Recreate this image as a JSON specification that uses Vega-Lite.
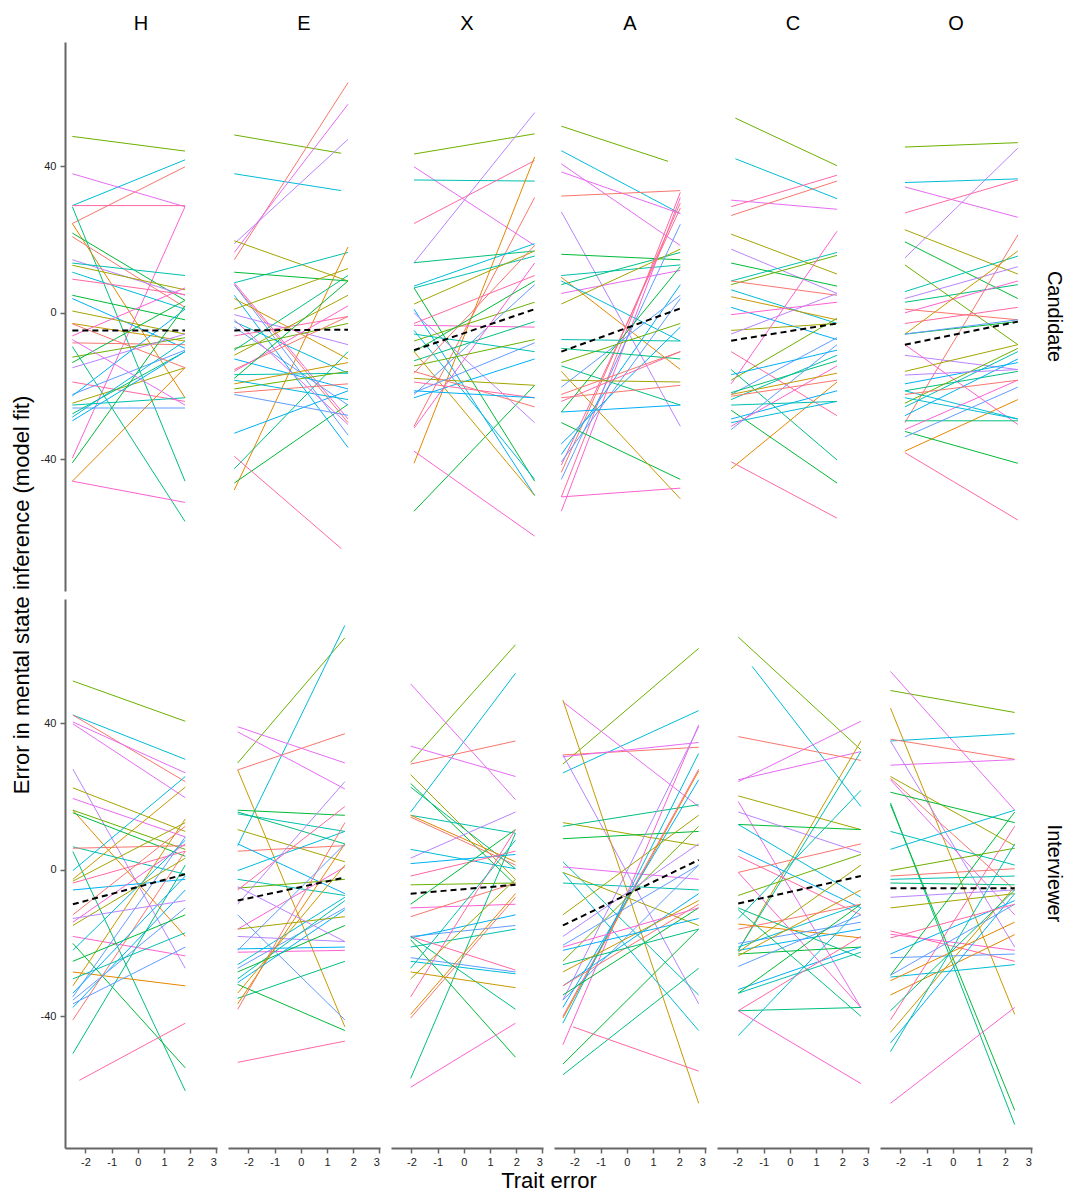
{
  "$schema": "https://vega.github.io/schema/vega-lite/v6.json",
  "background": "white",
  "padding": {"left": 10, "top": 14, "right": 5, "bottom": 5},
  "data": {
    "values": [
      {"trait": "H", "role": "Candidate", "pid": 5, "x": -2.5, "y": 48.2, "x2": 1.8, "y2": 44.2},
      {"trait": "H", "role": "Candidate", "pid": 9, "x": -2.5, "y": 29.3, "x2": 1.8, "y2": 41.8},
      {"trait": "H", "role": "Candidate", "pid": 1, "x": -2.5, "y": 24.4, "x2": 1.8, "y2": 39.9},
      {"trait": "H", "role": "Candidate", "pid": 13, "x": -2.5, "y": 38, "x2": 1.8, "y2": 29},
      {"trait": "H", "role": "Candidate", "pid": 15, "x": -2.5, "y": 29.3, "x2": 1.8, "y2": 29.3},
      {"trait": "H", "role": "Candidate", "pid": 14, "x": -2.5, "y": -39.7, "x2": 1.8, "y2": 29},
      {"trait": "H", "role": "Candidate", "pid": 7, "x": -2.5, "y": 29, "x2": 1.8, "y2": -46},
      {"trait": "H", "role": "Candidate", "pid": 2, "x": -2.5, "y": 24.4, "x2": 1.8, "y2": -23.2},
      {"trait": "H", "role": "Candidate", "pid": 6, "x": -2.5, "y": 21.8, "x2": 1.8, "y2": 3.4},
      {"trait": "H", "role": "Candidate", "pid": 16, "x": -2.5, "y": 20.8, "x2": 1.8, "y2": 1.5},
      {"trait": "H", "role": "Candidate", "pid": 12, "x": -2.5, "y": 14.5, "x2": 1.8, "y2": 4.8},
      {"trait": "H", "role": "Candidate", "pid": 8, "x": -2.5, "y": 13.6, "x2": 1.8, "y2": 10.2},
      {"trait": "H", "role": "Candidate", "pid": 4, "x": -2.5, "y": 13, "x2": 1.8, "y2": 6.3},
      {"trait": "H", "role": "Candidate", "pid": 24, "x": -2.5, "y": 11.1, "x2": 1.8, "y2": 1},
      {"trait": "H", "role": "Candidate", "pid": 30, "x": -2.5, "y": 9.2, "x2": 1.8, "y2": 5},
      {"trait": "H", "role": "Candidate", "pid": 21, "x": -2.5, "y": 4.8, "x2": 1.8, "y2": -1.9},
      {"trait": "H", "role": "Candidate", "pid": 10, "x": -2.5, "y": 3.9, "x2": 1.8, "y2": -9.7},
      {"trait": "H", "role": "Candidate", "pid": 19, "x": -2.5, "y": 0.5, "x2": 1.8, "y2": -5.8},
      {"trait": "H", "role": "Candidate", "pid": 3, "x": -2.5, "y": -2.9, "x2": 1.8, "y2": -7.7},
      {"trait": "H", "role": "Candidate", "pid": 29, "x": -2.5, "y": -6.3, "x2": 1.8, "y2": 6.8},
      {"trait": "H", "role": "Candidate", "pid": 31, "x": -2.5, "y": -8.2, "x2": 1.8, "y2": -8.7},
      {"trait": "H", "role": "Candidate", "pid": 22, "x": -2.5, "y": -9.2, "x2": 1.8, "y2": -57},
      {"trait": "H", "role": "Candidate", "pid": 20, "x": -2.5, "y": -12.1, "x2": 1.8, "y2": -6.8},
      {"trait": "H", "role": "Candidate", "pid": 36, "x": -2.5, "y": -13.6, "x2": 1.8, "y2": 3.4},
      {"trait": "H", "role": "Candidate", "pid": 27, "x": -2.5, "y": -15, "x2": 1.8, "y2": -5.8},
      {"trait": "H", "role": "Candidate", "pid": 45, "x": -2.5, "y": -18.9, "x2": 1.8, "y2": -24.2},
      {"trait": "H", "role": "Candidate", "pid": 11, "x": -2.5, "y": -22.3, "x2": 1.8, "y2": -10.2},
      {"trait": "H", "role": "Candidate", "pid": 25, "x": -2.5, "y": -22.7, "x2": 1.8, "y2": 1},
      {"trait": "H", "role": "Candidate", "pid": 34, "x": -2.5, "y": -24.7, "x2": 1.8, "y2": -15},
      {"trait": "H", "role": "Candidate", "pid": 23, "x": -2.5, "y": -25.2, "x2": 1.8, "y2": -23.2},
      {"trait": "H", "role": "Candidate", "pid": 26, "x": -2.5, "y": -26, "x2": 1.8, "y2": -26},
      {"trait": "H", "role": "Candidate", "pid": 37, "x": -2.5, "y": -27.6, "x2": 1.8, "y2": -10.6},
      {"trait": "H", "role": "Candidate", "pid": 39, "x": -2.5, "y": -28.5, "x2": 1.8, "y2": -7.7},
      {"trait": "H", "role": "Candidate", "pid": 40, "x": -2.5, "y": -29.5, "x2": 1.8, "y2": -10.6},
      {"trait": "H", "role": "Candidate", "pid": 51, "x": -2.5, "y": -41, "x2": 1.8, "y2": 1.9},
      {"trait": "H", "role": "Candidate", "pid": 17, "x": -2.5, "y": -46, "x2": 1.8, "y2": -15},
      {"trait": "H", "role": "Candidate", "pid": 44, "x": -2.5, "y": -46, "x2": 1.8, "y2": -51.8},
      {"trait": "H", "role": "Candidate", "pid": 28, "x": -2.5, "y": -7.3, "x2": 1.8, "y2": -25.2},
      {"trait": "H", "role": "Candidate", "pid": 46, "x": -2.5, "y": -3, "x2": 1.8, "y2": -15},
      {"trait": "H", "role": "Candidate", "pid": "mean", "x": -2.5, "y": -4.8, "x2": 1.8, "y2": -4.8},

      {"trait": "E", "role": "Candidate", "pid": 5, "x": -2.54, "y": 48.6, "x2": 1.54, "y2": 43.6},
      {"trait": "E", "role": "Candidate", "pid": 9, "x": -2.54, "y": 38, "x2": 1.54, "y2": 33.4},
      {"trait": "E", "role": "Candidate", "pid": 1, "x": -2.54, "y": 14.5, "x2": 1.8, "y2": 62.9},
      {"trait": "E", "role": "Candidate", "pid": 13, "x": -2.54, "y": 16.5, "x2": 1.8, "y2": 57},
      {"trait": "E", "role": "Candidate", "pid": 12, "x": -2.54, "y": 18.9, "x2": 1.8, "y2": 47.4},
      {"trait": "E", "role": "Candidate", "pid": 4, "x": -2.54, "y": 19.7, "x2": 1.8, "y2": 8.7},
      {"trait": "E", "role": "Candidate", "pid": 8, "x": -2.54, "y": 8.2, "x2": 1.8, "y2": 16.5},
      {"trait": "E", "role": "Candidate", "pid": 2, "x": -2.54, "y": -48.4, "x2": 1.8, "y2": 18},
      {"trait": "E", "role": "Candidate", "pid": 6, "x": -2.54, "y": 11.1, "x2": 1.8, "y2": 8.7},
      {"trait": "E", "role": "Candidate", "pid": 7, "x": -2.54, "y": -42.6, "x2": 1.8, "y2": -10.6},
      {"trait": "E", "role": "Candidate", "pid": 21, "x": -2.54, "y": -46.5, "x2": 1.8, "y2": -25},
      {"trait": "E", "role": "Candidate", "pid": 10, "x": -2.54, "y": -32.9, "x2": 1.8, "y2": -21.3},
      {"trait": "E", "role": "Candidate", "pid": 15, "x": -2.54, "y": -39.2, "x2": 1.54, "y2": -64.4},
      {"trait": "E", "role": "Candidate", "pid": 16, "x": -2.54, "y": 7.7, "x2": 1.8, "y2": -30},
      {"trait": "E", "role": "Candidate", "pid": 14, "x": -2.54, "y": 8.2, "x2": 1.8, "y2": -29},
      {"trait": "E", "role": "Candidate", "pid": 11, "x": -2.54, "y": 7.7, "x2": 1.8, "y2": -33.4},
      {"trait": "E", "role": "Candidate", "pid": 25, "x": -2.54, "y": 4.8, "x2": 1.8, "y2": -36.8},
      {"trait": "E", "role": "Candidate", "pid": 3, "x": -2.54, "y": 3.9, "x2": 1.8, "y2": -12.6},
      {"trait": "E", "role": "Candidate", "pid": 19, "x": -2.54, "y": 1, "x2": 1.8, "y2": 12.1},
      {"trait": "E", "role": "Candidate", "pid": 27, "x": -2.54, "y": -0.5, "x2": 1.8, "y2": -8.7},
      {"trait": "E", "role": "Candidate", "pid": 24, "x": -2.54, "y": -2.4, "x2": 1.8, "y2": -16.5},
      {"trait": "E", "role": "Candidate", "pid": 26, "x": -2.54, "y": -3.9, "x2": 1.8, "y2": -25.2},
      {"trait": "E", "role": "Candidate", "pid": 30, "x": -2.54, "y": -6.3, "x2": 1.8, "y2": -1},
      {"trait": "E", "role": "Candidate", "pid": 20, "x": -2.54, "y": -9.7, "x2": 1.8, "y2": -2.9},
      {"trait": "E", "role": "Candidate", "pid": 22, "x": -2.54, "y": -10.2, "x2": 1.8, "y2": 10.2},
      {"trait": "E", "role": "Candidate", "pid": 34, "x": -2.54, "y": -11.6, "x2": 1.8, "y2": 4.8},
      {"trait": "E", "role": "Candidate", "pid": 40, "x": -2.54, "y": -12.6, "x2": 1.8, "y2": -20.8},
      {"trait": "E", "role": "Candidate", "pid": 31, "x": -2.54, "y": -15.5, "x2": 1.8, "y2": -1},
      {"trait": "E", "role": "Candidate", "pid": 29, "x": -2.54, "y": -16, "x2": 1.8, "y2": 1.9},
      {"trait": "E", "role": "Candidate", "pid": 23, "x": -2.54, "y": -16.9, "x2": 1.8, "y2": -16.5},
      {"trait": "E", "role": "Candidate", "pid": 36, "x": -2.54, "y": -17.9, "x2": 1.8, "y2": 8.7},
      {"trait": "E", "role": "Candidate", "pid": 35, "x": -2.54, "y": -20.8, "x2": 1.8, "y2": -16},
      {"trait": "E", "role": "Candidate", "pid": 46, "x": -2.54, "y": -21.8, "x2": 1.8, "y2": -19.4},
      {"trait": "E", "role": "Candidate", "pid": 41, "x": -2.54, "y": -22.3, "x2": 1.8, "y2": -28},
      {"trait": "E", "role": "Candidate", "pid": 18, "x": -2.54, "y": -19.4, "x2": 1.8, "y2": -13.6},
      {"trait": "E", "role": "Candidate", "pid": 39, "x": -2.54, "y": -18.4, "x2": 1.8, "y2": -23.7},
      {"trait": "E", "role": "Candidate", "pid": 28, "x": -2.54, "y": -1.9, "x2": 1.8, "y2": -30.5},
      {"trait": "E", "role": "Candidate", "pid": "mean", "x": -2.54, "y": -4.8, "x2": 1.8, "y2": -4.6},

      {"trait": "X", "role": "Candidate", "pid": 5, "x": -1.9, "y": 43.4, "x2": 2.7, "y2": 48.9},
      {"trait": "X", "role": "Candidate", "pid": 12, "x": -1.9, "y": 13.7, "x2": 2.7, "y2": 54.7},
      {"trait": "X", "role": "Candidate", "pid": 13, "x": -1.9, "y": 39.9, "x2": 2.7, "y2": 18.4},
      {"trait": "X", "role": "Candidate", "pid": 8, "x": -1.9, "y": 36.3, "x2": 2.7, "y2": 36},
      {"trait": "X", "role": "Candidate", "pid": 15, "x": -1.9, "y": 24.4, "x2": 2.7, "y2": 41.6},
      {"trait": "X", "role": "Candidate", "pid": 2, "x": -1.9, "y": -41.1, "x2": 2.7, "y2": 42.6},
      {"trait": "X", "role": "Candidate", "pid": 1, "x": -1.9, "y": -31, "x2": 2.7, "y2": 31.5},
      {"trait": "X", "role": "Candidate", "pid": 14, "x": -1.9, "y": -37.8, "x2": 2.7, "y2": -61},
      {"trait": "X", "role": "Candidate", "pid": 6, "x": -1.9, "y": -54.2, "x2": 2.7, "y2": -19.8},
      {"trait": "X", "role": "Candidate", "pid": 7, "x": -1.9, "y": 13.7, "x2": 2.7, "y2": 16.9},
      {"trait": "X", "role": "Candidate", "pid": 9, "x": -1.9, "y": 7.3, "x2": 2.7, "y2": 18.9},
      {"trait": "X", "role": "Candidate", "pid": 23, "x": -1.9, "y": 6.8, "x2": 2.7, "y2": 15.5},
      {"trait": "X", "role": "Candidate", "pid": 21, "x": -1.9, "y": 6.8, "x2": 2.7, "y2": -46},
      {"trait": "X", "role": "Candidate", "pid": 4, "x": -1.9, "y": 2.4, "x2": 2.7, "y2": 16.9},
      {"trait": "X", "role": "Candidate", "pid": 10, "x": -1.9, "y": 1, "x2": 2.7, "y2": -49.9},
      {"trait": "X", "role": "Candidate", "pid": 30, "x": -1.9, "y": -2.9, "x2": 2.7, "y2": 10.2},
      {"trait": "X", "role": "Candidate", "pid": 27, "x": -1.9, "y": 0, "x2": 2.7, "y2": -30},
      {"trait": "X", "role": "Candidate", "pid": 24, "x": -1.9, "y": -4.8, "x2": 2.7, "y2": -45.5},
      {"trait": "X", "role": "Candidate", "pid": 3, "x": -1.9, "y": -10.6, "x2": 2.7, "y2": -49.9},
      {"trait": "X", "role": "Candidate", "pid": 29, "x": -1.9, "y": -3.4, "x2": 2.7, "y2": -3.9},
      {"trait": "X", "role": "Candidate", "pid": 20, "x": -1.9, "y": -7.7, "x2": 2.7, "y2": 2.9},
      {"trait": "X", "role": "Candidate", "pid": 22, "x": -1.9, "y": -13.1, "x2": 2.7, "y2": -2.4},
      {"trait": "X", "role": "Candidate", "pid": 11, "x": -1.9, "y": -22.3, "x2": 2.7, "y2": 7.7},
      {"trait": "X", "role": "Candidate", "pid": 25, "x": -1.9, "y": -23.2, "x2": 2.7, "y2": -12.6},
      {"trait": "X", "role": "Candidate", "pid": 19, "x": -1.9, "y": -17.9, "x2": 2.7, "y2": -19.8},
      {"trait": "X", "role": "Candidate", "pid": 16, "x": -1.9, "y": -16, "x2": 2.7, "y2": -25.7},
      {"trait": "X", "role": "Candidate", "pid": 45, "x": -1.9, "y": -18.9, "x2": 2.7, "y2": -23.2},
      {"trait": "X", "role": "Candidate", "pid": 26, "x": -1.9, "y": -21.8, "x2": 2.7, "y2": -8.2},
      {"trait": "X", "role": "Candidate", "pid": 44, "x": -1.9, "y": -31.5, "x2": 2.7, "y2": 13.6},
      {"trait": "X", "role": "Candidate", "pid": 38, "x": -1.9, "y": -5.8, "x2": 2.7, "y2": -10.6},
      {"trait": "X", "role": "Candidate", "pid": 35, "x": -1.9, "y": -14.5, "x2": 2.7, "y2": -7.3},
      {"trait": "X", "role": "Candidate", "pid": 31, "x": -1.9, "y": -16.5, "x2": 2.7, "y2": 18.4},
      {"trait": "X", "role": "Candidate", "pid": 36, "x": -1.9, "y": -10.6, "x2": 2.7, "y2": 8.7},
      {"trait": "X", "role": "Candidate", "pid": 40, "x": -1.9, "y": -21.3, "x2": 2.7, "y2": -23.2},
      {"trait": "X", "role": "Candidate", "pid": "mean", "x": -1.9, "y": -10.2, "x2": 2.7, "y2": 1},

      {"trait": "A", "role": "Candidate", "pid": 5, "x": -2.5, "y": 51, "x2": 1.57, "y2": 41.4},
      {"trait": "A", "role": "Candidate", "pid": 9, "x": -2.5, "y": 44.3, "x2": 2.04, "y2": 27.1},
      {"trait": "A", "role": "Candidate", "pid": 13, "x": -2.5, "y": 40.7, "x2": 2.04, "y2": 18.4},
      {"trait": "A", "role": "Candidate", "pid": 28, "x": -2.5, "y": 38.5, "x2": 2.04, "y2": 27.1},
      {"trait": "A", "role": "Candidate", "pid": 1, "x": -2.5, "y": 31.9, "x2": 2.04, "y2": 33.4},
      {"trait": "A", "role": "Candidate", "pid": 12, "x": -2.5, "y": 27.6, "x2": 2.04, "y2": -31},
      {"trait": "A", "role": "Candidate", "pid": 6, "x": -2.5, "y": 16, "x2": 2.04, "y2": 14.5},
      {"trait": "A", "role": "Candidate", "pid": 8, "x": -2.5, "y": 10.2, "x2": 2.04, "y2": 13.1},
      {"trait": "A", "role": "Candidate", "pid": 7, "x": -2.5, "y": 7.7, "x2": 2.04, "y2": 16.5},
      {"trait": "A", "role": "Candidate", "pid": 43, "x": -2.5, "y": 5.3, "x2": 2.04, "y2": 11.6},
      {"trait": "A", "role": "Candidate", "pid": 2, "x": -2.5, "y": 9.7, "x2": 2.04, "y2": -15.5},
      {"trait": "A", "role": "Candidate", "pid": 24, "x": -2.5, "y": 8.7, "x2": 2.04, "y2": -7.7},
      {"trait": "A", "role": "Candidate", "pid": 4, "x": -2.5, "y": 2.4, "x2": 2.04, "y2": 17.4},
      {"trait": "A", "role": "Candidate", "pid": 15, "x": -2.5, "y": -50.3, "x2": 2.04, "y2": 32.9},
      {"trait": "A", "role": "Candidate", "pid": 14, "x": -2.5, "y": -54.2, "x2": 2.04, "y2": 31.5},
      {"trait": "A", "role": "Candidate", "pid": 16, "x": -2.5, "y": -43.6, "x2": 2.04, "y2": 30},
      {"trait": "A", "role": "Candidate", "pid": 30, "x": -2.5, "y": -41.6, "x2": 2.04, "y2": 28.6},
      {"trait": "A", "role": "Candidate", "pid": 11, "x": -2.5, "y": -45.5, "x2": 2.04, "y2": 24.2},
      {"trait": "A", "role": "Candidate", "pid": 10, "x": -2.5, "y": -38.7, "x2": 2.04, "y2": 7.7},
      {"trait": "A", "role": "Candidate", "pid": 26, "x": -2.5, "y": -40.7, "x2": 2.04, "y2": 3.9},
      {"trait": "A", "role": "Candidate", "pid": 25, "x": -2.5, "y": -35.8, "x2": 2.04, "y2": -3.9},
      {"trait": "A", "role": "Candidate", "pid": 21, "x": -2.5, "y": -30, "x2": 2.04, "y2": -45.5},
      {"trait": "A", "role": "Candidate", "pid": 3, "x": -2.5, "y": -16, "x2": 2.04, "y2": -50.8},
      {"trait": "A", "role": "Candidate", "pid": 22, "x": -2.5, "y": -14.5, "x2": 2.04, "y2": -25.2},
      {"trait": "A", "role": "Candidate", "pid": 40, "x": -2.5, "y": -27.1, "x2": 2.04, "y2": -25.2},
      {"trait": "A", "role": "Candidate", "pid": 29, "x": -2.5, "y": -50.3, "x2": 2.04, "y2": -47.9},
      {"trait": "A", "role": "Candidate", "pid": 31, "x": -2.5, "y": -23.2, "x2": 2.04, "y2": -19.8},
      {"trait": "A", "role": "Candidate", "pid": 19, "x": -2.5, "y": -18.4, "x2": 2.04, "y2": -18.9},
      {"trait": "A", "role": "Candidate", "pid": 36, "x": -2.5, "y": -27.1, "x2": 2.04, "y2": 12.6},
      {"trait": "A", "role": "Candidate", "pid": 23, "x": -2.5, "y": -7.3, "x2": 2.04, "y2": -7.7},
      {"trait": "A", "role": "Candidate", "pid": 41, "x": -2.5, "y": -20.3, "x2": 2.04, "y2": 4.8},
      {"trait": "A", "role": "Candidate", "pid": 45, "x": -2.5, "y": -24.2, "x2": 2.04, "y2": -10.6},
      {"trait": "A", "role": "Candidate", "pid": 20, "x": -2.5, "y": -13.6, "x2": 2.04, "y2": -2.9},
      {"trait": "A", "role": "Candidate", "pid": 37, "x": -2.5, "y": -9.7, "x2": 2.04, "y2": -12.6},
      {"trait": "A", "role": "Candidate", "pid": 46, "x": -2.5, "y": -22.3, "x2": 2.04, "y2": -10.6},
      {"trait": "A", "role": "Candidate", "pid": "mean", "x": -2.5, "y": -10.6, "x2": 2.04, "y2": 1.2},

      {"trait": "C", "role": "Candidate", "pid": 5, "x": -2.08, "y": 53.2, "x2": 1.8, "y2": 40.2},
      {"trait": "C", "role": "Candidate", "pid": 9, "x": -2.08, "y": 42.1, "x2": 1.8, "y2": 31.2},
      {"trait": "C", "role": "Candidate", "pid": 13, "x": -2.24, "y": 30.8, "x2": 1.8, "y2": 28.3},
      {"trait": "C", "role": "Candidate", "pid": 15, "x": -2.24, "y": 29, "x2": 1.8, "y2": 37.6},
      {"trait": "C", "role": "Candidate", "pid": 1, "x": -2.24, "y": 26.6, "x2": 1.8, "y2": 36},
      {"trait": "C", "role": "Candidate", "pid": 4, "x": -2.24, "y": 21.5, "x2": 1.8, "y2": 10.6},
      {"trait": "C", "role": "Candidate", "pid": 12, "x": -2.24, "y": 17.4, "x2": 1.8, "y2": 5.3},
      {"trait": "C", "role": "Candidate", "pid": 6, "x": -2.24, "y": 13.6, "x2": 1.8, "y2": 7.3},
      {"trait": "C", "role": "Candidate", "pid": 8, "x": -2.24, "y": 8.7, "x2": 1.8, "y2": 16.5},
      {"trait": "C", "role": "Candidate", "pid": 20, "x": -2.24, "y": 7.7, "x2": 1.8, "y2": 15.7},
      {"trait": "C", "role": "Candidate", "pid": 16, "x": -2.24, "y": 8.7, "x2": 1.8, "y2": 4.8},
      {"trait": "C", "role": "Candidate", "pid": 24, "x": -2.24, "y": 6.3, "x2": 1.8, "y2": -2.9},
      {"trait": "C", "role": "Candidate", "pid": 3, "x": -2.24, "y": 4.4, "x2": 1.8, "y2": -1.9},
      {"trait": "C", "role": "Candidate", "pid": 10, "x": -2.24, "y": 1.5, "x2": 1.8, "y2": -7.3},
      {"trait": "C", "role": "Candidate", "pid": 14, "x": -2.24, "y": -0.5, "x2": 1.8, "y2": 2.9},
      {"trait": "C", "role": "Candidate", "pid": 19, "x": -2.24, "y": -4.8, "x2": 1.8, "y2": -2.9},
      {"trait": "C", "role": "Candidate", "pid": 27, "x": -2.24, "y": -5.8, "x2": 1.8, "y2": 5.3},
      {"trait": "C", "role": "Candidate", "pid": 30, "x": -2.24, "y": -10.6, "x2": 1.8, "y2": -28.1},
      {"trait": "C", "role": "Candidate", "pid": 29, "x": -2.24, "y": -19.4, "x2": 1.8, "y2": 22.3},
      {"trait": "C", "role": "Candidate", "pid": 7, "x": -2.24, "y": -15.5, "x2": 1.8, "y2": -40.2},
      {"trait": "C", "role": "Candidate", "pid": 21, "x": -2.24, "y": -26.6, "x2": 1.8, "y2": -46.5},
      {"trait": "C", "role": "Candidate", "pid": 45, "x": -2.24, "y": -40.7, "x2": 1.8, "y2": -56.1},
      {"trait": "C", "role": "Candidate", "pid": 2, "x": -2.24, "y": -42.6, "x2": 1.8, "y2": -18.9},
      {"trait": "C", "role": "Candidate", "pid": 11, "x": -2.24, "y": -22.3, "x2": 1.8, "y2": -6.8},
      {"trait": "C", "role": "Candidate", "pid": 23, "x": -2.24, "y": -23.7, "x2": 1.8, "y2": -11.6},
      {"trait": "C", "role": "Candidate", "pid": 22, "x": -2.24, "y": -21.8, "x2": 1.8, "y2": -13.1},
      {"trait": "C", "role": "Candidate", "pid": 25, "x": -2.24, "y": -29, "x2": 1.8, "y2": -21.3},
      {"trait": "C", "role": "Candidate", "pid": 26, "x": -2.24, "y": -31.9, "x2": 1.8, "y2": -8.7},
      {"trait": "C", "role": "Candidate", "pid": 39, "x": -2.24, "y": -30, "x2": 1.8, "y2": -24.2},
      {"trait": "C", "role": "Candidate", "pid": 44, "x": -2.24, "y": -31, "x2": 1.8, "y2": -14.5},
      {"trait": "C", "role": "Candidate", "pid": 35, "x": -2.24, "y": -18.4, "x2": 1.8, "y2": -1.5},
      {"trait": "C", "role": "Candidate", "pid": 40, "x": -2.24, "y": -16.9, "x2": 1.8, "y2": -10.2},
      {"trait": "C", "role": "Candidate", "pid": 18, "x": -2.24, "y": -22.3, "x2": 1.8, "y2": -16.5},
      {"trait": "C", "role": "Candidate", "pid": 31, "x": -2.24, "y": -22.8, "x2": 1.8, "y2": -18.4},
      {"trait": "C", "role": "Candidate", "pid": 38, "x": -2.24, "y": -25.2, "x2": 1.8, "y2": -24.2},
      {"trait": "C", "role": "Candidate", "pid": "mean", "x": -2.24, "y": -7.6, "x2": 1.8, "y2": -2.9},

      {"trait": "O", "role": "Candidate", "pid": 5, "x": -1.83, "y": 45.3, "x2": 2.48, "y2": 46.5},
      {"trait": "O", "role": "Candidate", "pid": 12, "x": -1.83, "y": 15, "x2": 2.48, "y2": 45},
      {"trait": "O", "role": "Candidate", "pid": 9, "x": -1.83, "y": 35.6, "x2": 2.48, "y2": 36.6},
      {"trait": "O", "role": "Candidate", "pid": 13, "x": -1.83, "y": 34.4, "x2": 2.48, "y2": 26.1},
      {"trait": "O", "role": "Candidate", "pid": 15, "x": -1.83, "y": 27.3, "x2": 2.48, "y2": 36.3},
      {"trait": "O", "role": "Candidate", "pid": 4, "x": -1.83, "y": 22.7, "x2": 2.48, "y2": 10.6},
      {"trait": "O", "role": "Candidate", "pid": 6, "x": -1.83, "y": 19.4, "x2": 2.48, "y2": 3.9},
      {"trait": "O", "role": "Candidate", "pid": 1, "x": -1.83, "y": -30, "x2": 2.48, "y2": 21.3},
      {"trait": "O", "role": "Candidate", "pid": 20, "x": -1.83, "y": 13.1, "x2": 2.48, "y2": -8.7},
      {"trait": "O", "role": "Candidate", "pid": 8, "x": -1.83, "y": 5.8, "x2": 2.48, "y2": 15.5},
      {"trait": "O", "role": "Candidate", "pid": 27, "x": -1.83, "y": 3.9, "x2": 2.48, "y2": 12.6},
      {"trait": "O", "role": "Candidate", "pid": 7, "x": -1.83, "y": 2.9, "x2": 2.48, "y2": 7.7},
      {"trait": "O", "role": "Candidate", "pid": 14, "x": -1.83, "y": 0, "x2": 2.48, "y2": 8.7},
      {"trait": "O", "role": "Candidate", "pid": 30, "x": -1.83, "y": -2.9, "x2": 2.48, "y2": 1.5},
      {"trait": "O", "role": "Candidate", "pid": 16, "x": -1.83, "y": 1, "x2": 2.48, "y2": -1.9},
      {"trait": "O", "role": "Candidate", "pid": 3, "x": -1.83, "y": -5.8, "x2": 2.48, "y2": 16.9},
      {"trait": "O", "role": "Candidate", "pid": 21, "x": -1.83, "y": -5.8, "x2": 2.48, "y2": -2.4},
      {"trait": "O", "role": "Candidate", "pid": 11, "x": -1.83, "y": -5.8, "x2": 2.48, "y2": -1.9},
      {"trait": "O", "role": "Candidate", "pid": 42, "x": -1.83, "y": -11.6, "x2": 2.48, "y2": -15.5},
      {"trait": "O", "role": "Candidate", "pid": 29, "x": -1.83, "y": -8.7, "x2": 2.48, "y2": -30.5},
      {"trait": "O", "role": "Candidate", "pid": 19, "x": -1.83, "y": -16, "x2": 2.48, "y2": -8.7},
      {"trait": "O", "role": "Candidate", "pid": 10, "x": -1.83, "y": -19.4, "x2": 2.48, "y2": -13.6},
      {"trait": "O", "role": "Candidate", "pid": 22, "x": -1.83, "y": -21.3, "x2": 2.48, "y2": -16},
      {"trait": "O", "role": "Candidate", "pid": 24, "x": -1.83, "y": -21.3, "x2": 2.48, "y2": -29},
      {"trait": "O", "role": "Candidate", "pid": 2, "x": -1.83, "y": -37.8, "x2": 2.48, "y2": -23.7},
      {"trait": "O", "role": "Candidate", "pid": 45, "x": -1.83, "y": -38.2, "x2": 2.48, "y2": -56.6},
      {"trait": "O", "role": "Candidate", "pid": 36, "x": -1.83, "y": -32.4, "x2": 2.48, "y2": -41.1},
      {"trait": "O", "role": "Candidate", "pid": 37, "x": -1.83, "y": -29.5, "x2": 2.48, "y2": -29.5},
      {"trait": "O", "role": "Candidate", "pid": 26, "x": -1.83, "y": -33.9, "x2": 2.48, "y2": -20.3},
      {"trait": "O", "role": "Candidate", "pid": 44, "x": -1.83, "y": -31.9, "x2": 2.48, "y2": -18.4},
      {"trait": "O", "role": "Candidate", "pid": 23, "x": -1.83, "y": -25.7, "x2": 2.48, "y2": -10.6},
      {"trait": "O", "role": "Candidate", "pid": 35, "x": -1.83, "y": -24.7, "x2": 2.48, "y2": -9.7},
      {"trait": "O", "role": "Candidate", "pid": 25, "x": -1.83, "y": -28.1, "x2": 2.48, "y2": -12.6},
      {"trait": "O", "role": "Candidate", "pid": 31, "x": -1.83, "y": -22.3, "x2": 2.48, "y2": -18.4},
      {"trait": "O", "role": "Candidate", "pid": 39, "x": -1.83, "y": -23.2, "x2": 2.48, "y2": -29},
      {"trait": "O", "role": "Candidate", "pid": 57, "x": -1.83, "y": -17, "x2": 2.48, "y2": -15.5},
      {"trait": "O", "role": "Candidate", "pid": "mean", "x": -1.83, "y": -8.7, "x2": 2.48, "y2": -2.4},

      {"trait": "H", "role": "Interviewer", "pid": 5, "x": -2.48, "y": 51.6, "x2": 1.81, "y2": 40.6},
      {"trait": "H", "role": "Interviewer", "pid": 9, "x": -2.48, "y": 42.3, "x2": 1.81, "y2": 30.2},
      {"trait": "H", "role": "Interviewer", "pid": 1, "x": -2.48, "y": 42.3, "x2": 1.81, "y2": 24.1},
      {"trait": "H", "role": "Interviewer", "pid": 13, "x": -2.48, "y": 40.4, "x2": 1.81, "y2": 26.5},
      {"trait": "H", "role": "Interviewer", "pid": 28, "x": -2.48, "y": 39.9, "x2": 1.81, "y2": 19.7},
      {"trait": "H", "role": "Interviewer", "pid": 12, "x": -2.48, "y": 27.5, "x2": 1.81, "y2": -26.9},
      {"trait": "H", "role": "Interviewer", "pid": 4, "x": -2.48, "y": 22.4, "x2": 1.81, "y2": 10.5},
      {"trait": "H", "role": "Interviewer", "pid": 43, "x": -2.48, "y": 19.5, "x2": 1.81, "y2": 9},
      {"trait": "H", "role": "Interviewer", "pid": 2, "x": -2.48, "y": 16.3, "x2": 1.81, "y2": -18.2},
      {"trait": "H", "role": "Interviewer", "pid": 6, "x": -2.48, "y": 15.6, "x2": 1.81, "y2": 3.7},
      {"trait": "H", "role": "Interviewer", "pid": 20, "x": -2.48, "y": 16.3, "x2": 1.81, "y2": 5.6},
      {"trait": "H", "role": "Interviewer", "pid": 8, "x": -2.48, "y": 6.3, "x2": 1.81, "y2": -1.2},
      {"trait": "H", "role": "Interviewer", "pid": 16, "x": -2.48, "y": 5.9, "x2": 1.81, "y2": 6.6},
      {"trait": "H", "role": "Interviewer", "pid": 7, "x": -2.48, "y": 5, "x2": 1.81, "y2": -60.4},
      {"trait": "H", "role": "Interviewer", "pid": 24, "x": -2.48, "y": -0.2, "x2": 1.81, "y2": 25.5},
      {"trait": "H", "role": "Interviewer", "pid": 3, "x": -2.48, "y": -2.6, "x2": 1.81, "y2": 22.6},
      {"trait": "H", "role": "Interviewer", "pid": 19, "x": -2.48, "y": -3.1, "x2": 1.81, "y2": 12.9},
      {"trait": "H", "role": "Interviewer", "pid": 15, "x": -2.48, "y": -3.6, "x2": 1.81, "y2": 5.1},
      {"trait": "H", "role": "Interviewer", "pid": 10, "x": -2.48, "y": -5.5, "x2": 1.81, "y2": -2.6},
      {"trait": "H", "role": "Interviewer", "pid": 21, "x": -2.48, "y": -20.1, "x2": 1.81, "y2": -54.1},
      {"trait": "H", "role": "Interviewer", "pid": 14, "x": -2.48, "y": -18.2, "x2": 1.81, "y2": -23.5},
      {"trait": "H", "role": "Interviewer", "pid": 22, "x": -2.48, "y": -50.2, "x2": 1.81, "y2": 1.3},
      {"trait": "H", "role": "Interviewer", "pid": 30, "x": -2.23, "y": -57.5, "x2": 1.81, "y2": -41.9},
      {"trait": "H", "role": "Interviewer", "pid": 17, "x": -2.48, "y": -27.9, "x2": 1.81, "y2": -31.7},
      {"trait": "H", "role": "Interviewer", "pid": 18, "x": -2.48, "y": -31.7, "x2": 1.81, "y2": 13.9},
      {"trait": "H", "role": "Interviewer", "pid": 11, "x": -2.48, "y": -34.7, "x2": 1.81, "y2": 9},
      {"trait": "H", "role": "Interviewer", "pid": 25, "x": -2.48, "y": -37.6, "x2": 1.81, "y2": -5.5},
      {"trait": "H", "role": "Interviewer", "pid": 31, "x": -2.48, "y": -41, "x2": 1.81, "y2": 5.1},
      {"trait": "H", "role": "Interviewer", "pid": 26, "x": -2.48, "y": -35.6, "x2": 1.81, "y2": -10.4},
      {"trait": "H", "role": "Interviewer", "pid": 23, "x": -2.48, "y": -29.8, "x2": 1.81, "y2": -17.2},
      {"trait": "H", "role": "Interviewer", "pid": 36, "x": -2.48, "y": -25, "x2": 1.81, "y2": -12.3},
      {"trait": "H", "role": "Interviewer", "pid": 40, "x": -2.48, "y": -33.7, "x2": 1.81, "y2": -1.7},
      {"trait": "H", "role": "Interviewer", "pid": 29, "x": -2.48, "y": -14.3, "x2": 1.81, "y2": 7.1},
      {"trait": "H", "role": "Interviewer", "pid": 34, "x": -2.48, "y": -15.2, "x2": 1.81, "y2": 3.2},
      {"trait": "H", "role": "Interviewer", "pid": 46, "x": -2.48, "y": -12.3, "x2": 1.81, "y2": 11.9},
      {"trait": "H", "role": "Interviewer", "pid": 27, "x": -2.48, "y": -13.3, "x2": 1.81, "y2": -8.4},
      {"trait": "H", "role": "Interviewer", "pid": 39, "x": -2.48, "y": -22, "x2": 1.81, "y2": 8.1},
      {"trait": "H", "role": "Interviewer", "pid": 41, "x": -2.48, "y": -36.6, "x2": 1.81, "y2": -21.1},
      {"trait": "H", "role": "Interviewer", "pid": "mean", "x": -2.48, "y": -9.4, "x2": 1.81, "y2": -1.2},

      {"trait": "E", "role": "Interviewer", "pid": 5, "x": -2.41, "y": 29.2, "x2": 1.68, "y2": 63.4},
      {"trait": "E", "role": "Interviewer", "pid": 9, "x": -2.41, "y": 6.6, "x2": 1.68, "y2": 66.8},
      {"trait": "E", "role": "Interviewer", "pid": 1, "x": -2.41, "y": 27.3, "x2": 1.68, "y2": 37.2},
      {"trait": "E", "role": "Interviewer", "pid": 13, "x": -2.41, "y": 39.1, "x2": 1.68, "y2": 29.2},
      {"trait": "E", "role": "Interviewer", "pid": 28, "x": -2.41, "y": 37.7, "x2": 1.68, "y2": 22.1},
      {"trait": "E", "role": "Interviewer", "pid": 3, "x": -2.41, "y": 27.3, "x2": 1.68, "y2": -42.9},
      {"trait": "E", "role": "Interviewer", "pid": 6, "x": -2.41, "y": 16.3, "x2": 1.68, "y2": 14.9},
      {"trait": "E", "role": "Interviewer", "pid": 8, "x": -2.41, "y": 15.3, "x2": 1.68, "y2": 10.5},
      {"trait": "E", "role": "Interviewer", "pid": 7, "x": -2.41, "y": 15.8, "x2": 1.68, "y2": 7.1},
      {"trait": "E", "role": "Interviewer", "pid": 4, "x": -2.41, "y": 11, "x2": 1.68, "y2": 2.2},
      {"trait": "E", "role": "Interviewer", "pid": 16, "x": -2.41, "y": 5.1, "x2": 1.68, "y2": 6.6},
      {"trait": "E", "role": "Interviewer", "pid": 10, "x": -2.41, "y": 7.1, "x2": 1.68, "y2": -6.5},
      {"trait": "E", "role": "Interviewer", "pid": 24, "x": -2.41, "y": -0.2, "x2": 1.68, "y2": 10.5},
      {"trait": "E", "role": "Interviewer", "pid": 23, "x": -2.41, "y": -2.6, "x2": 1.68, "y2": -7},
      {"trait": "E", "role": "Interviewer", "pid": 20, "x": -2.41, "y": -5, "x2": 1.68, "y2": -2.6},
      {"trait": "E", "role": "Interviewer", "pid": 15, "x": -2.41, "y": -5.5, "x2": 1.68, "y2": 17.3},
      {"trait": "E", "role": "Interviewer", "pid": 12, "x": -2.41, "y": -9.4, "x2": 1.68, "y2": 24.1},
      {"trait": "E", "role": "Interviewer", "pid": 11, "x": -2.41, "y": -12.3, "x2": 1.68, "y2": -41},
      {"trait": "E", "role": "Interviewer", "pid": 27, "x": -2.41, "y": -18.2, "x2": 1.68, "y2": -19.6},
      {"trait": "E", "role": "Interviewer", "pid": 14, "x": -2.41, "y": -22.5, "x2": 1.68, "y2": -22},
      {"trait": "E", "role": "Interviewer", "pid": 25, "x": -2.41, "y": -21.6, "x2": 1.68, "y2": -21.1},
      {"trait": "E", "role": "Interviewer", "pid": 39, "x": -2.41, "y": -25.9, "x2": 1.68, "y2": -7.5},
      {"trait": "E", "role": "Interviewer", "pid": 21, "x": -2.41, "y": -31.3, "x2": 1.68, "y2": -43.9},
      {"trait": "E", "role": "Interviewer", "pid": 22, "x": -2.41, "y": -35.1, "x2": 1.68, "y2": -25},
      {"trait": "E", "role": "Interviewer", "pid": 31, "x": -2.41, "y": -38.1, "x2": 1.68, "y2": 12.9},
      {"trait": "E", "role": "Interviewer", "pid": 30, "x": -2.41, "y": -52.6, "x2": 1.68, "y2": -46.8},
      {"trait": "E", "role": "Interviewer", "pid": 2, "x": -2.41, "y": -36.6, "x2": 1.68, "y2": 7.1},
      {"trait": "E", "role": "Interviewer", "pid": 26, "x": -2.41, "y": -26.9, "x2": 1.68, "y2": -10.4},
      {"trait": "E", "role": "Interviewer", "pid": 38, "x": -2.41, "y": -29.8, "x2": 1.68, "y2": -8.4},
      {"trait": "E", "role": "Interviewer", "pid": 36, "x": -2.41, "y": -27.9, "x2": 1.68, "y2": -15.2},
      {"trait": "E", "role": "Interviewer", "pid": 40, "x": -2.41, "y": -30.8, "x2": 1.68, "y2": -10.9},
      {"trait": "E", "role": "Interviewer", "pid": 19, "x": -2.41, "y": -16.2, "x2": 1.68, "y2": -12.8},
      {"trait": "E", "role": "Interviewer", "pid": 29, "x": -2.41, "y": -16.2, "x2": 1.68, "y2": 0.8},
      {"trait": "E", "role": "Interviewer", "pid": 18, "x": -2.41, "y": -33.7, "x2": 1.68, "y2": 1.3},
      {"trait": "E", "role": "Interviewer", "pid": 41, "x": -2.41, "y": -22, "x2": 1.68, "y2": 7.1},
      {"trait": "E", "role": "Interviewer", "pid": 42, "x": -2.41, "y": -4.6, "x2": 1.68, "y2": -19.6},
      {"trait": "E", "role": "Interviewer", "pid": "mean", "x": -2.41, "y": -8.4, "x2": 1.68, "y2": -2.1},

      {"trait": "X", "role": "Interviewer", "pid": 5, "x": -2.03, "y": 29.4, "x2": 1.97, "y2": 61.5},
      {"trait": "X", "role": "Interviewer", "pid": 9, "x": -2.03, "y": 15.8, "x2": 1.97, "y2": 53.7},
      {"trait": "X", "role": "Interviewer", "pid": 13, "x": -2.03, "y": 50.8, "x2": 1.97, "y2": 19.2},
      {"trait": "X", "role": "Interviewer", "pid": 28, "x": -2.03, "y": 33.8, "x2": 1.97, "y2": 25.5},
      {"trait": "X", "role": "Interviewer", "pid": 1, "x": -2.03, "y": 28.9, "x2": 1.97, "y2": 35.2},
      {"trait": "X", "role": "Interviewer", "pid": 4, "x": -2.03, "y": 26, "x2": 1.97, "y2": -2.6},
      {"trait": "X", "role": "Interviewer", "pid": 6, "x": -2.03, "y": 23.6, "x2": 1.97, "y2": -4.1},
      {"trait": "X", "role": "Interviewer", "pid": 7, "x": -2.03, "y": 22.6, "x2": 1.97, "y2": 0.3},
      {"trait": "X", "role": "Interviewer", "pid": 8, "x": -2.03, "y": 14.9, "x2": 1.97, "y2": 10},
      {"trait": "X", "role": "Interviewer", "pid": 2, "x": -2.03, "y": 14.9, "x2": 1.97, "y2": 2.2},
      {"trait": "X", "role": "Interviewer", "pid": 16, "x": -2.03, "y": 14.4, "x2": 1.97, "y2": 1.3},
      {"trait": "X", "role": "Interviewer", "pid": 12, "x": -2.03, "y": 3.2, "x2": 1.97, "y2": 15.8},
      {"trait": "X", "role": "Interviewer", "pid": 24, "x": -2.03, "y": 5.6, "x2": 1.97, "y2": 0.3},
      {"trait": "X", "role": "Interviewer", "pid": 10, "x": -2.03, "y": 1.7, "x2": 1.97, "y2": 4.2},
      {"trait": "X", "role": "Interviewer", "pid": 15, "x": -2.03, "y": -1.7, "x2": 1.97, "y2": 5.1},
      {"trait": "X", "role": "Interviewer", "pid": 20, "x": -2.03, "y": -4.1, "x2": 1.97, "y2": -3.6},
      {"trait": "X", "role": "Interviewer", "pid": 21, "x": -2.03, "y": -9.4, "x2": 1.97, "y2": 11},
      {"trait": "X", "role": "Interviewer", "pid": 14, "x": -2.03, "y": -10.4, "x2": 1.97, "y2": -9.4},
      {"trait": "X", "role": "Interviewer", "pid": 31, "x": -2.03, "y": -12.8, "x2": 1.97, "y2": -3.6},
      {"trait": "X", "role": "Interviewer", "pid": 11, "x": -2.03, "y": -18.2, "x2": 1.97, "y2": -15.2},
      {"trait": "X", "role": "Interviewer", "pid": 25, "x": -2.03, "y": -18.6, "x2": 1.97, "y2": -12.3},
      {"trait": "X", "role": "Interviewer", "pid": 23, "x": -2.03, "y": -21.1, "x2": 1.97, "y2": -16.2},
      {"trait": "X", "role": "Interviewer", "pid": 30, "x": -2.03, "y": -18.2, "x2": 1.97, "y2": -27.4},
      {"trait": "X", "role": "Interviewer", "pid": 26, "x": -2.03, "y": -24, "x2": 1.97, "y2": -27.9},
      {"trait": "X", "role": "Interviewer", "pid": 39, "x": -2.03, "y": -25, "x2": 1.97, "y2": -28.4},
      {"trait": "X", "role": "Interviewer", "pid": 22, "x": -2.03, "y": -57, "x2": 1.97, "y2": 10},
      {"trait": "X", "role": "Interviewer", "pid": 29, "x": -2.03, "y": -59.4, "x2": 1.97, "y2": -41.9},
      {"trait": "X", "role": "Interviewer", "pid": 36, "x": -2.03, "y": -19.1, "x2": 1.97, "y2": -51.2},
      {"trait": "X", "role": "Interviewer", "pid": 37, "x": -2.03, "y": -18.2, "x2": 1.97, "y2": -38.1},
      {"trait": "X", "role": "Interviewer", "pid": 3, "x": -2.03, "y": -27.9, "x2": 1.97, "y2": -32.2},
      {"trait": "X", "role": "Interviewer", "pid": 46, "x": -2.03, "y": -40.5, "x2": 1.97, "y2": -7.5},
      {"trait": "X", "role": "Interviewer", "pid": 45, "x": -2.03, "y": -34.7, "x2": 1.97, "y2": 11},
      {"trait": "X", "role": "Interviewer", "pid": 19, "x": -2.03, "y": -29.8, "x2": 1.97, "y2": -2.6},
      {"trait": "X", "role": "Interviewer", "pid": 38, "x": -2.03, "y": -26.9, "x2": 1.97, "y2": 8.1},
      {"trait": "X", "role": "Interviewer", "pid": 17, "x": -2.03, "y": -39.5, "x2": 1.97, "y2": -6.5},
      {"trait": "X", "role": "Interviewer", "pid": "mean", "x": -2.03, "y": -6.5, "x2": 1.97, "y2": -4.1},

      {"trait": "A", "role": "Interviewer", "pid": 5, "x": -2.44, "y": 28.9, "x2": 2.74, "y2": 60.5},
      {"trait": "A", "role": "Interviewer", "pid": 9, "x": -2.44, "y": 26.5, "x2": 2.74, "y2": 43.5},
      {"trait": "A", "role": "Interviewer", "pid": 1, "x": -2.44, "y": 31.4, "x2": 2.74, "y2": 33.5},
      {"trait": "A", "role": "Interviewer", "pid": 12, "x": -2.44, "y": 31.4, "x2": 2.74, "y2": -36.6},
      {"trait": "A", "role": "Interviewer", "pid": 13, "x": -2.44, "y": 45.9, "x2": 2.74, "y2": 17.3},
      {"trait": "A", "role": "Interviewer", "pid": 28, "x": -2.44, "y": 30.9, "x2": 2.74, "y2": 34.8},
      {"trait": "A", "role": "Interviewer", "pid": 3, "x": -2.44, "y": 46.4, "x2": 2.74, "y2": -63.8},
      {"trait": "A", "role": "Interviewer", "pid": 4, "x": -2.44, "y": 12.9, "x2": 2.74, "y2": 6.6},
      {"trait": "A", "role": "Interviewer", "pid": 6, "x": -2.44, "y": 8.5, "x2": 2.74, "y2": 10.5},
      {"trait": "A", "role": "Interviewer", "pid": 7, "x": -2.44, "y": 11.9, "x2": 2.74, "y2": 17.8},
      {"trait": "A", "role": "Interviewer", "pid": 8, "x": -2.44, "y": 2.2, "x2": 2.74, "y2": -34.2},
      {"trait": "A", "role": "Interviewer", "pid": 24, "x": -2.44, "y": -0.7, "x2": 2.74, "y2": -43.9},
      {"trait": "A", "role": "Interviewer", "pid": 19, "x": -2.44, "y": -0.7, "x2": 2.74, "y2": -15.2},
      {"trait": "A", "role": "Interviewer", "pid": 43, "x": -2.44, "y": 0.8, "x2": 2.74, "y2": -2.6},
      {"trait": "A", "role": "Interviewer", "pid": 23, "x": -2.44, "y": -3.6, "x2": 2.74, "y2": -5.5},
      {"trait": "A", "role": "Interviewer", "pid": 21, "x": -2.44, "y": -53.1, "x2": 2.74, "y2": -16.2},
      {"trait": "A", "role": "Interviewer", "pid": 22, "x": -2.44, "y": -56, "x2": 2.74, "y2": -26.9},
      {"trait": "A", "role": "Interviewer", "pid": 15, "x": -2.06, "y": -42.9, "x2": 2.74, "y2": -55},
      {"trait": "A", "role": "Interviewer", "pid": 14, "x": -2.44, "y": -47.8, "x2": 2.74, "y2": 39.6},
      {"trait": "A", "role": "Interviewer", "pid": 27, "x": -2.44, "y": -35.6, "x2": 2.74, "y2": 39.1},
      {"trait": "A", "role": "Interviewer", "pid": 30, "x": -2.44, "y": -40, "x2": 2.74, "y2": 27.5},
      {"trait": "A", "role": "Interviewer", "pid": 2, "x": -2.44, "y": -40.5, "x2": 2.74, "y2": 27},
      {"trait": "A", "role": "Interviewer", "pid": 39, "x": -2.44, "y": -41.9, "x2": 2.74, "y2": 31.8},
      {"trait": "A", "role": "Interviewer", "pid": 10, "x": -2.44, "y": -37.6, "x2": 2.74, "y2": 24.6},
      {"trait": "A", "role": "Interviewer", "pid": 11, "x": -2.44, "y": -35.6, "x2": 2.74, "y2": 1.3},
      {"trait": "A", "role": "Interviewer", "pid": 36, "x": -2.44, "y": -34.2, "x2": 2.74, "y2": -10.4},
      {"trait": "A", "role": "Interviewer", "pid": 25, "x": -2.44, "y": -31.7, "x2": 2.74, "y2": -6.5},
      {"trait": "A", "role": "Interviewer", "pid": 16, "x": -2.44, "y": -31.7, "x2": 2.74, "y2": -9.4},
      {"trait": "A", "role": "Interviewer", "pid": 20, "x": -2.44, "y": -25, "x2": 2.74, "y2": 11.9},
      {"trait": "A", "role": "Interviewer", "pid": 37, "x": -2.44, "y": -25.9, "x2": 2.74, "y2": -16.2},
      {"trait": "A", "role": "Interviewer", "pid": 26, "x": -2.44, "y": -20.6, "x2": 2.74, "y2": 1.3},
      {"trait": "A", "role": "Interviewer", "pid": 29, "x": -2.44, "y": -21.1, "x2": 2.74, "y2": -10.4},
      {"trait": "A", "role": "Interviewer", "pid": 34, "x": -2.44, "y": -12.3, "x2": 2.74, "y2": 14.9},
      {"trait": "A", "role": "Interviewer", "pid": 42, "x": -2.44, "y": -18.2, "x2": 2.74, "y2": 7.1},
      {"trait": "A", "role": "Interviewer", "pid": 18, "x": -2.44, "y": -27.9, "x2": 2.74, "y2": -8.4},
      {"trait": "A", "role": "Interviewer", "pid": 40, "x": -2.44, "y": -22, "x2": 2.74, "y2": -13.3},
      {"trait": "A", "role": "Interviewer", "pid": "mean", "x": -2.44, "y": -15.2, "x2": 2.74, "y2": 2.7},

      {"trait": "C", "role": "Interviewer", "pid": 5, "x": -1.97, "y": 63.6, "x2": 2.71, "y2": 32.8},
      {"trait": "C", "role": "Interviewer", "pid": 9, "x": -1.44, "y": 55.6, "x2": 2.71, "y2": 17.3},
      {"trait": "C", "role": "Interviewer", "pid": 13, "x": -1.97, "y": 24.1, "x2": 2.71, "y2": 40.6},
      {"trait": "C", "role": "Interviewer", "pid": 28, "x": -1.97, "y": 24.6, "x2": 2.71, "y2": 32.3},
      {"trait": "C", "role": "Interviewer", "pid": 1, "x": -1.97, "y": 36.4, "x2": 2.71, "y2": 29.9},
      {"trait": "C", "role": "Interviewer", "pid": 3, "x": -1.97, "y": -22, "x2": 2.71, "y2": 35.2},
      {"trait": "C", "role": "Interviewer", "pid": 8, "x": -1.97, "y": -22, "x2": 2.71, "y2": 32.3},
      {"trait": "C", "role": "Interviewer", "pid": 4, "x": -1.97, "y": 20.2, "x2": 2.71, "y2": 11},
      {"trait": "C", "role": "Interviewer", "pid": 43, "x": -1.97, "y": 18.7, "x2": 2.71, "y2": -37.6},
      {"trait": "C", "role": "Interviewer", "pid": 6, "x": -1.97, "y": 12.4, "x2": 2.71, "y2": 11},
      {"trait": "C", "role": "Interviewer", "pid": 24, "x": -1.97, "y": 12.4, "x2": 2.71, "y2": -7.5},
      {"trait": "C", "role": "Interviewer", "pid": 12, "x": -1.97, "y": 15.8, "x2": 2.71, "y2": 4.7},
      {"trait": "C", "role": "Interviewer", "pid": 10, "x": -1.97, "y": 5.6, "x2": 2.71, "y2": -10.4},
      {"trait": "C", "role": "Interviewer", "pid": 15, "x": -1.97, "y": 3.7, "x2": 2.71, "y2": -12.3},
      {"trait": "C", "role": "Interviewer", "pid": 16, "x": -1.97, "y": -0.7, "x2": 2.71, "y2": 7.1},
      {"trait": "C", "role": "Interviewer", "pid": 20, "x": -1.97, "y": -7, "x2": 2.71, "y2": 4.2},
      {"trait": "C", "role": "Interviewer", "pid": 7, "x": -1.97, "y": -10.4, "x2": 2.71, "y2": -24},
      {"trait": "C", "role": "Interviewer", "pid": 23, "x": -1.97, "y": -13.3, "x2": 2.71, "y2": 21.7},
      {"trait": "C", "role": "Interviewer", "pid": 14, "x": -1.97, "y": -0.7, "x2": 2.71, "y2": -37.6},
      {"trait": "C", "role": "Interviewer", "pid": 2, "x": -1.97, "y": -14.8, "x2": 2.71, "y2": -18.6},
      {"trait": "C", "role": "Interviewer", "pid": 11, "x": -1.97, "y": -20.1, "x2": 2.71, "y2": -14.3},
      {"trait": "C", "role": "Interviewer", "pid": 39, "x": -1.97, "y": -21.1, "x2": 2.71, "y2": -9.4},
      {"trait": "C", "role": "Interviewer", "pid": 25, "x": -1.97, "y": -22, "x2": 2.71, "y2": -16.2},
      {"trait": "C", "role": "Interviewer", "pid": 21, "x": -1.97, "y": -23, "x2": 2.71, "y2": -21.1},
      {"trait": "C", "role": "Interviewer", "pid": 19, "x": -1.97, "y": -22.5, "x2": 2.71, "y2": 1.3},
      {"trait": "C", "role": "Interviewer", "pid": 18, "x": -1.97, "y": -23.5, "x2": 2.71, "y2": -5.5},
      {"trait": "C", "role": "Interviewer", "pid": 26, "x": -1.97, "y": -26.4, "x2": 2.71, "y2": -12.3},
      {"trait": "C", "role": "Interviewer", "pid": 40, "x": -1.97, "y": -32.7, "x2": 2.71, "y2": -21.1},
      {"trait": "C", "role": "Interviewer", "pid": 38, "x": -1.97, "y": -33.7, "x2": 2.71, "y2": -22.5},
      {"trait": "C", "role": "Interviewer", "pid": 30, "x": -1.97, "y": -38.5, "x2": 2.71, "y2": -18.2},
      {"trait": "C", "role": "Interviewer", "pid": 22, "x": -1.97, "y": -38.5, "x2": 2.71, "y2": -37.6},
      {"trait": "C", "role": "Interviewer", "pid": 54, "x": -1.97, "y": -45.3, "x2": 2.71, "y2": -10.4},
      {"trait": "C", "role": "Interviewer", "pid": 29, "x": -1.97, "y": -38.5, "x2": 2.71, "y2": -58.4},
      {"trait": "C", "role": "Interviewer", "pid": 36, "x": -1.97, "y": -33.7, "x2": 2.71, "y2": -9.4},
      {"trait": "C", "role": "Interviewer", "pid": 31, "x": -1.97, "y": -16.2, "x2": 2.71, "y2": -9.4},
      {"trait": "C", "role": "Interviewer", "pid": 37, "x": -1.97, "y": -10.9, "x2": 2.71, "y2": -40},
      {"trait": "C", "role": "Interviewer", "pid": "mean", "x": -1.97, "y": -9.2, "x2": 2.71, "y2": -1.7},

      {"trait": "O", "role": "Interviewer", "pid": 5, "x": -2.38, "y": 49, "x2": 2.36, "y2": 43},
      {"trait": "O", "role": "Interviewer", "pid": 13, "x": -2.38, "y": 54.2, "x2": 2.36, "y2": 16.3},
      {"trait": "O", "role": "Interviewer", "pid": 3, "x": -2.38, "y": 44.2, "x2": 2.36, "y2": -39.5},
      {"trait": "O", "role": "Interviewer", "pid": 9, "x": -2.38, "y": 35.2, "x2": 2.36, "y2": 37.2},
      {"trait": "O", "role": "Interviewer", "pid": 1, "x": -2.38, "y": 35.7, "x2": 2.36, "y2": 30.2},
      {"trait": "O", "role": "Interviewer", "pid": 12, "x": -2.38, "y": 35.2, "x2": 2.36, "y2": -21.1},
      {"trait": "O", "role": "Interviewer", "pid": 28, "x": -2.38, "y": 28.6, "x2": 2.36, "y2": 30.1},
      {"trait": "O", "role": "Interviewer", "pid": 4, "x": -2.38, "y": 25.5, "x2": 2.36, "y2": 6.6},
      {"trait": "O", "role": "Interviewer", "pid": 16, "x": -2.38, "y": 25, "x2": 2.36, "y2": -5.5},
      {"trait": "O", "role": "Interviewer", "pid": 43, "x": -2.38, "y": 24.6, "x2": 2.36, "y2": -12.3},
      {"trait": "O", "role": "Interviewer", "pid": 6, "x": -2.38, "y": 21.2, "x2": 2.36, "y2": 12.9},
      {"trait": "O", "role": "Interviewer", "pid": 7, "x": -2.38, "y": 18.3, "x2": 2.36, "y2": -69.6},
      {"trait": "O", "role": "Interviewer", "pid": 21, "x": -2.38, "y": 17.8, "x2": 2.36, "y2": -65.7},
      {"trait": "O", "role": "Interviewer", "pid": 8, "x": -2.38, "y": 10.5, "x2": 2.36, "y2": 1.3},
      {"trait": "O", "role": "Interviewer", "pid": 24, "x": -2.38, "y": 5.6, "x2": 2.36, "y2": 16.3},
      {"trait": "O", "role": "Interviewer", "pid": 20, "x": -2.38, "y": -0.2, "x2": 2.36, "y2": 5.9},
      {"trait": "O", "role": "Interviewer", "pid": 31, "x": -2.38, "y": -1.7, "x2": 2.36, "y2": 0.3},
      {"trait": "O", "role": "Interviewer", "pid": 23, "x": -2.38, "y": -2.6, "x2": 2.36, "y2": -1.7},
      {"trait": "O", "role": "Interviewer", "pid": 22, "x": -2.38, "y": -3.6, "x2": 2.36, "y2": -4.1},
      {"trait": "O", "role": "Interviewer", "pid": 27, "x": -2.38, "y": -7.5, "x2": 2.36, "y2": -5.5},
      {"trait": "O", "role": "Interviewer", "pid": 19, "x": -2.38, "y": -10.4, "x2": 2.36, "y2": -6.5},
      {"trait": "O", "role": "Interviewer", "pid": 15, "x": -2.38, "y": -16.7, "x2": 2.36, "y2": -25},
      {"trait": "O", "role": "Interviewer", "pid": 14, "x": -2.38, "y": -17.6, "x2": 2.36, "y2": -22},
      {"trait": "O", "role": "Interviewer", "pid": 10, "x": -2.38, "y": -23, "x2": 2.36, "y2": -8.4},
      {"trait": "O", "role": "Interviewer", "pid": 11, "x": -2.38, "y": -24, "x2": 2.36, "y2": -23},
      {"trait": "O", "role": "Interviewer", "pid": 39, "x": -2.38, "y": -29.3, "x2": 2.36, "y2": -25.9},
      {"trait": "O", "role": "Interviewer", "pid": 36, "x": -2.38, "y": -28.8, "x2": 2.36, "y2": 15.8},
      {"trait": "O", "role": "Interviewer", "pid": 2, "x": -2.38, "y": -34.2, "x2": 2.36, "y2": -17.7},
      {"trait": "O", "role": "Interviewer", "pid": 30, "x": -2.38, "y": -41, "x2": 2.36, "y2": 11.9},
      {"trait": "O", "role": "Interviewer", "pid": 18, "x": -2.38, "y": -44.4, "x2": 2.36, "y2": -4.6},
      {"trait": "O", "role": "Interviewer", "pid": 25, "x": -2.38, "y": -47.3, "x2": 2.36, "y2": -6.5},
      {"trait": "O", "role": "Interviewer", "pid": 38, "x": -2.38, "y": -49.7, "x2": 2.36, "y2": 7.1},
      {"trait": "O", "role": "Interviewer", "pid": 29, "x": -2.38, "y": -63.8, "x2": 2.36, "y2": -37.6},
      {"trait": "O", "role": "Interviewer", "pid": 26, "x": -2.38, "y": -28.8, "x2": 2.36, "y2": -9.4},
      {"trait": "O", "role": "Interviewer", "pid": 17, "x": -2.38, "y": -30.3, "x2": 2.36, "y2": -14.3},
      {"trait": "O", "role": "Interviewer", "pid": 37, "x": -2.38, "y": -38.5, "x2": 2.36, "y2": -5.5},
      {"trait": "O", "role": "Interviewer", "pid": 45, "x": -2.38, "y": -18.6, "x2": 2.36, "y2": -9.4},
      {"trait": "O", "role": "Interviewer", "pid": "mean", "x": -2.38, "y": -5, "x2": 2.36, "y2": -5}
    ]
  },
  "facet": {
    "row": {
      "field": "role",
      "type": "nominal",
      "sort": ["Candidate", "Interviewer"],
      "header": {
        "title": "Error in mental state inference (model fit)",
        "titleOrient": "left",
        "titleAngle": -90,
        "titleFont": "Liberation Sans",
        "titleFontSize": 22,
        "titleFontWeight": "normal",
        "titleColor": "black",
        "titlePadding": -26,
        "labelOrient": "right",
        "labelAngle": 90,
        "labelFont": "Liberation Sans",
        "labelFontSize": 20,
        "labelColor": "black",
        "labelPadding": 12
      }
    },
    "column": {
      "field": "trait",
      "type": "nominal",
      "sort": ["H", "E", "X", "A", "C", "O"],
      "header": {
        "title": "Trait error",
        "titleOrient": "bottom",
        "titleFont": "Liberation Sans",
        "titleFontSize": 22,
        "titleFontWeight": "normal",
        "titleColor": "black",
        "titlePadding": -6,
        "labelOrient": "top",
        "labelFont": "Liberation Sans",
        "labelFontSize": 20,
        "labelColor": "black",
        "labelPadding": 8
      }
    }
  },
  "spacing": {"row": 8, "column": 11},
  "spec": {
    "width": 152,
    "height": 549,
    "encoding": {
      "x": {
        "field": "x",
        "type": "quantitative",
        "scale": {"domain": [-2.78, 3.02], "nice": false, "zero": false},
        "axis": {"values": [-2, -1, 0, 1, 2, 3], "title": null, "labelExpr": "datum.value + ''"}
      },
      "y": {
        "field": "y",
        "type": "quantitative",
        "scale": {"domain": [-76, 74], "nice": false, "zero": false},
        "axis": {"values": [-40, 0, 40], "title": null, "labelExpr": "datum.value + ''"}
      },
      "x2": {"field": "x2"},
      "y2": {"field": "y2"}
    },
    "layer": [
      {
        "transform": [{"filter": "datum.pid !== 'mean'"}],
        "mark": {"type": "rule", "strokeWidth": 1},
        "encoding": {
          "color": {
            "field": "pid",
            "type": "nominal",
            "legend": null,
            "scale": {
              "domain": [1,2,3,4,5,6,7,8,9,10,11,12,13,14,15,16,17,18,19,20,21,22,23,24,25,26,27,28,29,30,31,32,33,34,35,36,37,38,39,40,41,42,43,44,45,46,47,48,49,50,51,52,53,54,55,56,57,58,59,60],
              "range": [
                "#F8766D","#E58700","#C99800","#A3A500","#6BB100","#00BA38","#00BF7D","#00C0AF","#00BCD8","#00B0F6","#619CFF","#B983FF","#E76BF3","#FD61D1","#FF67A4",
                "#F8766D","#E58700","#C99800","#A3A500","#6BB100","#00BA38","#00BF7D","#00C0AF","#00BCD8","#00B0F6","#619CFF","#B983FF","#E76BF3","#FD61D1","#FF67A4",
                "#F8766D","#E58700","#C99800","#A3A500","#6BB100","#00BA38","#00BF7D","#00C0AF","#00BCD8","#00B0F6","#619CFF","#B983FF","#E76BF3","#FD61D1","#FF67A4",
                "#F8766D","#E58700","#C99800","#A3A500","#6BB100","#00BA38","#00BF7D","#00C0AF","#00BCD8","#00B0F6","#619CFF","#B983FF","#E76BF3","#FD61D1","#FF67A4"
              ]
            }
          }
        }
      },
      {
        "transform": [{"filter": "datum.pid === 'mean'"}],
        "mark": {"type": "rule", "color": "black", "strokeWidth": 2, "strokeDash": [6, 4]},
        "encoding": {}
      }
    ]
  },
  "config": {
    "view": {"stroke": null},
    "font": "Liberation Sans",
    "axis": {
      "grid": false,
      "domainColor": "#666666",
      "domainWidth": 2,
      "tickColor": "#666666",
      "tickWidth": 1.5,
      "tickSize": 5,
      "labelFont": "Liberation Sans",
      "labelFontSize": 11,
      "labelColor": "#222222",
      "labelPadding": 3
    },
    "axisY": {"labelPadding": 4}
  }
}
